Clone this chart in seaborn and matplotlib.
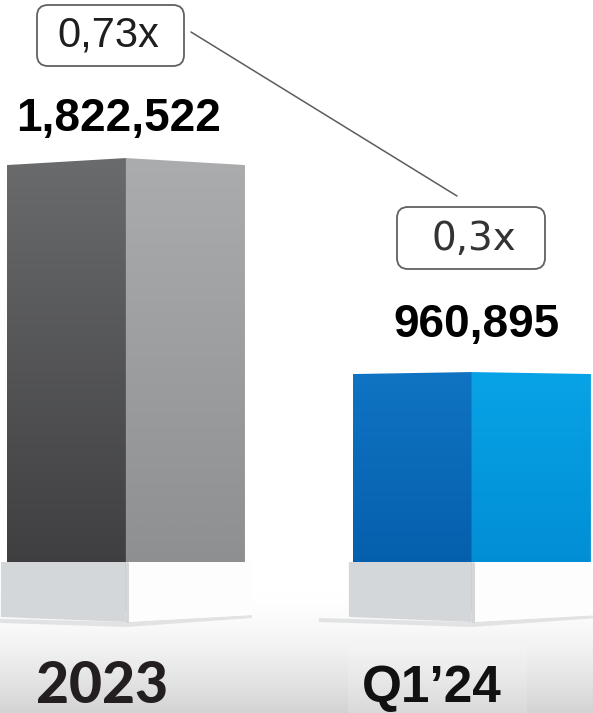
import numpy as np
import pandas as pd
import matplotlib
matplotlib.use("Agg")
import matplotlib.pyplot as plt
from matplotlib.patches import Polygon, FancyBboxPatch, Rectangle
from matplotlib.lines import Line2D
from matplotlib.colors import to_rgb
from matplotlib.transforms import blended_transform_factory
import seaborn as sns

# ---- data -------------------------------------------------------------
periods = ["2023", "Q1’24"]
customers = [1822522, 960895]
multiples = ["0,73x", "0,3x"]

# ---- face colours: left (shaded) face and right (lit) face, top -> bottom
left_top = ["#6a6b6d", "#0f74c3"]
left_bottom = ["#3a3a3c", "#035aa8"]
right_top = ["#abacae", "#08a3e6"]
right_bottom = ["#8b8c8e", "#0089d0"]

W, H = 593, 713
sns.set_theme(style="white")
plt.rcParams["font.family"] = ["Liberation Sans", "DejaVu Sans"]

fig = plt.figure(figsize=(W / 100, H / 100), dpi=100)
fig.patch.set_facecolor("white")
ax = fig.add_axes([0, 0, 1, 1])

df = pd.DataFrame({"period": periods, "customers": customers})
sns.barplot(data=df, x="period", y="customers", hue="period",
            palette=left_top, legend=False, width=0.688, ax=ax, zorder=2)
bars = sorted(ax.patches, key=lambda p: p.get_x())

XMIN, XMAX = -0.364, 1.350
YMIN, YMAX = -411900, 2458900
kx = W / (XMAX - XMIN)      # pixels per x unit
ky = H / (YMAX - YMIN)      # pixels per y unit


def row(r):
    """pixel row (from top) -> axes fraction"""
    return 1 - r / H


def vgrad(top, bottom, n=256):
    t = np.linspace(0, 1, n)[:, None, None]
    a = np.array(to_rgb(top))[None, None, :]
    b = np.array(to_rgb(bottom))[None, None, :]
    return a * (1 - t) + b * t


tr = blended_transform_factory(ax.transData, ax.transAxes)

# soft floor gradient behind the bars
floor = np.linspace(0, 1, 256) ** 1.5
floor_rgb = (1 - floor)[:, None, None] * np.array([1, 1, 1]) + \
    floor[:, None, None] * np.array(to_rgb("#d3d3d3"))
ax.imshow(floor_rgb, extent=(0, 1, 0, row(595)), transform=ax.transAxes,
          aspect="auto", zorder=0, interpolation="bicubic")
ax.add_patch(Rectangle((348 / W, 0), (527 - 348) / W, row(645),
                       transform=ax.transAxes, facecolor="white",
                       alpha=0.15, edgecolor="none", zorder=0.5))

drops = [7, 2]          # perspective drop of the top edge, pixels
overhang = [(6, 7), (4, 7)]
for i, p in enumerate(bars):
    x0, w, h = p.get_x(), p.get_width(), p.get_height()
    x1, xc = x0 + w, x0 + w / 2
    p.set_facecolor("none")
    p.set_edgecolor("none")
    d = drops[i] / ky

    left_face = Polygon([(x0, 0), (xc, 0), (xc, h), (x0, h - d)],
                        closed=True, transform=ax.transData)
    right_face = Polygon([(xc, 0), (x1, 0), (x1, h - d), (xc, h)],
                         closed=True, transform=ax.transData)
    im = ax.imshow(vgrad(left_top[i], left_bottom[i]), extent=(x0, xc, 0, h),
                   aspect="auto", zorder=2, interpolation="bicubic")
    im.set_clip_path(left_face)
    im = ax.imshow(vgrad(right_top[i], right_bottom[i]), extent=(xc, x1, 0, h),
                   aspect="auto", zorder=2, interpolation="bicubic")
    im.set_clip_path(right_face)

    # white plinth under each bar, with a faint cast shadow
    dl, dr = overhang[i][0] / kx, overhang[i][1] / kx
    bl, br = x0 - dl, x1 + dr
    ax.add_patch(Polygon([(bl - 30 / kx, row(618)), (xc, row(622)),
                          (br, row(615)), (br, row(618)), (xc, row(627)),
                          (bl - 30 / kx, row(622))],
                         closed=True, transform=tr, facecolor="#cdd0d3",
                         edgecolor="none", alpha=0.55, zorder=2.5))
    ax.add_patch(Polygon([(bl, row(562)), (xc, row(562)), (xc, row(622)),
                          (bl, row(617))], closed=True, transform=tr,
                         facecolor="#d4d7da", edgecolor="none", zorder=3))
    ax.add_patch(Polygon([(xc, row(562)), (br, row(562)), (br, row(615)),
                          (xc, row(622))], closed=True, transform=tr,
                         facecolor="#fdfdfd", edgecolor="none", zorder=3))
    ax.add_line(Line2D([xc + 1.5 / kx, xc + 1.5 / kx], [row(563), row(621)],
                       transform=tr, color="#c3c6c9", lw=2.2, alpha=0.7,
                       zorder=3.1))

# value labels above the bars
label_offsets = [(-7, 27), (5, 35)]
for i, p in enumerate(bars):
    xc = p.get_x() + p.get_width() / 2
    ax.annotate(f"{customers[i]:,}", xy=(xc, p.get_height()),
                xytext=label_offsets[i], textcoords="offset pixels",
                ha="center", va="baseline", fontsize=33, fontweight="bold",
                color="black", zorder=5)

# multiple call-outs joined by a thin connector
boxes = [(37, 5, 184, 66), (397, 207, 545, 269)]
for (bx0, by0, bx1, by1) in boxes:
    fig.patches.append(FancyBboxPatch(
        (bx0 / 100, (H - by1) / 100), (bx1 - bx0) / 100, (by1 - by0) / 100,
        boxstyle="round,pad=0,rounding_size=0.11",
        transform=fig.dpi_scale_trans, facecolor="white",
        edgecolor="#616161", linewidth=1.3, zorder=4))
fig.text(108 / W, row(47), multiples[0], ha="center", va="baseline",
         fontsize=30, color="#1e1e1e", zorder=5)
fig.text(474 / W, row(250), multiples[1], ha="center", va="baseline",
         fontsize=28, color="#333333", family=["DejaVu Sans"], zorder=5)
fig.lines.append(Line2D([191 / W, 457 / W], [row(32), row(196)],
                        transform=fig.transFigure, color="#5c5c5c", lw=1.1))

# period labels along the floor
fig.text(102 / W, row(703), periods[0], ha="center", va="baseline",
         fontsize=41, fontweight="black", color="#231f20",
         family=["Lato", "DejaVu Sans"], zorder=5)
fig.text(432 / W, row(702), periods[1], ha="center", va="baseline",
         fontsize=37, fontweight="bold", color="#111111", zorder=5)

ax.set_xlim(XMIN, XMAX)
ax.set_ylim(YMIN, YMAX)
ax.axis("off")

fig.savefig("out.png", dpi=100)
